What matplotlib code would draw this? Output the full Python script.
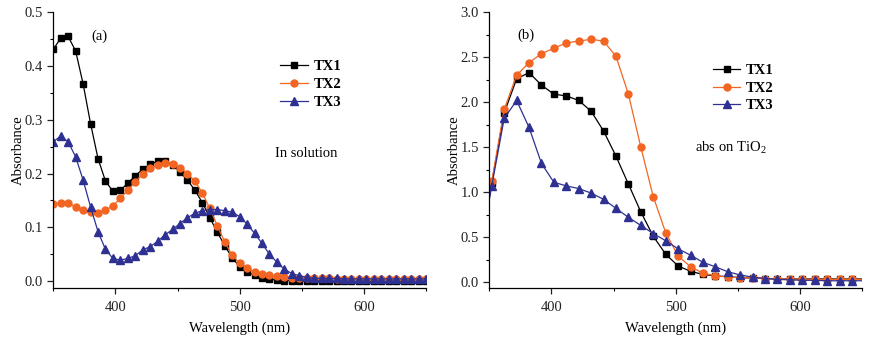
import matplotlib
matplotlib.use("Agg")
import matplotlib.pyplot as plt
from matplotlib.ticker import MultipleLocator

plt.rcParams['font.family'] = ['Liberation Serif', 'DejaVu Serif']
plt.rcParams['mathtext.fontset'] = 'custom'
plt.rcParams['mathtext.rm'] = 'Liberation Serif'

# ---- panel (a): in solution ----
wl_a = list(range(350, 651, 6))
tx1_a = [0.431, 0.452, 0.455, 0.428, 0.367, 0.293, 0.228, 0.186, 0.167, 0.169,
         0.182, 0.196, 0.208, 0.217, 0.223, 0.223, 0.216, 0.203, 0.188, 0.169,
         0.146, 0.118, 0.091, 0.066, 0.043, 0.027, 0.017, 0.011, 0.006, 0.003,
         0.002, 0.001, 0.001, 0.000, 0.000, 0.000, 0.000, 0.000, 0.000, 0.000,
         0.000, 0.000, 0.000, 0.000, 0.000, 0.000, 0.000, 0.000, 0.000, 0.000, 0.000]
tx2_a = [0.143, 0.146, 0.145, 0.138, 0.132, 0.128, 0.127, 0.132, 0.140, 0.154,
         0.169, 0.185, 0.199, 0.210, 0.216, 0.219, 0.217, 0.211, 0.200, 0.186,
         0.164, 0.135, 0.103, 0.073, 0.048, 0.033, 0.024, 0.017, 0.013, 0.011,
         0.009, 0.007, 0.006, 0.005, 0.005, 0.005, 0.005, 0.005, 0.004, 0.004,
         0.004, 0.004, 0.004, 0.004, 0.004, 0.004, 0.004, 0.004, 0.004, 0.004, 0.004]
tx3_a = [0.259, 0.270, 0.259, 0.231, 0.188, 0.138, 0.092, 0.059, 0.042, 0.039,
         0.042, 0.047, 0.058, 0.064, 0.074, 0.086, 0.096, 0.107, 0.118, 0.126,
         0.131, 0.133, 0.133, 0.131, 0.128, 0.120, 0.106, 0.089, 0.070, 0.050,
         0.035, 0.022, 0.014, 0.010, 0.007, 0.005, 0.005, 0.005, 0.005, 0.004,
         0.004, 0.004, 0.004, 0.004, 0.004, 0.004, 0.004, 0.004, 0.004, 0.004, 0.004]

# ---- panel (b): adsorbed on TiO2 (first and last points lie outside the view) ----
wl_b = [342] + list(range(352, 653, 10))
tx1_b = [0.30, 1.10, 1.88, 2.26, 2.33, 2.19, 2.09, 2.07, 2.02, 1.90, 1.68, 1.40,
         1.09, 0.78, 0.51, 0.31, 0.18, 0.12, 0.085, 0.07, 0.06, 0.05, 0.045,
         0.04, 0.035, 0.035, 0.035, 0.035, 0.035, 0.035, 0.035, 0.035]
tx2_b = [0.35, 1.12, 1.92, 2.30, 2.44, 2.54, 2.60, 2.66, 2.68, 2.70, 2.68, 2.51,
         2.09, 1.50, 0.95, 0.55, 0.29, 0.17, 0.10, 0.07, 0.055, 0.05, 0.045,
         0.04, 0.035, 0.035, 0.03, 0.03, 0.03, 0.03, 0.03, 0.03]
tx3_b = [0.30, 1.07, 1.82, 2.02, 1.72, 1.32, 1.11, 1.07, 1.04, 0.99, 0.92, 0.82,
         0.72, 0.63, 0.54, 0.46, 0.37, 0.30, 0.22, 0.17, 0.115, 0.08, 0.055,
         0.04, 0.03, 0.025, 0.02, 0.02, 0.015, 0.015, 0.015, 0.015]

labels = ['TX1', 'TX2', 'TX3']
colors = ['#000000', '#F26522', '#2E3192']
markers = ['s', 'o', '^']
msizes = [4.6, 5.0, 5.6]

fig = plt.figure(figsize=(8.72, 3.38), dpi=100)
axA = fig.add_axes([0.0611, 0.1494, 0.4274, 0.8142])
axB = fig.add_axes([0.5611, 0.1494, 0.4274, 0.8142])


def style(ax, ylim, ymaj, ymin, fmt):
    ax.set_xlim(350, 650)
    ax.set_ylim(*ylim)
    for s in ['top', 'right']:
        ax.spines[s].set_visible(False)
    for s in ['left', 'bottom']:
        ax.spines[s].set_linewidth(0.9)
    ax.xaxis.set_major_locator(MultipleLocator(100))
    ax.xaxis.set_minor_locator(MultipleLocator(50))
    ax.yaxis.set_major_locator(MultipleLocator(ymaj))
    ax.yaxis.set_minor_locator(MultipleLocator(ymin))
    ax.yaxis.set_major_formatter(plt.FormatStrFormatter(fmt))
    ax.tick_params(which='major', direction='out', length=4, width=0.9,
                   labelsize=10.5, colors='#222222')
    ax.tick_params(axis='x', which='major', pad=6)
    ax.tick_params(which='minor', direction='out', length=2.5, width=0.8)
    ax.set_xlabel('Wavelength (nm)', fontsize=10.5, labelpad=5)
    ax.set_ylabel('Absorbance', fontsize=10.5, labelpad=0)


series_a = [tx1_a, tx2_a, tx3_a]
for ys, lab, c, m, ms in zip(series_a, labels, colors, markers, msizes):
    axA.plot(wl_a, ys, color=c, marker=m, markersize=ms, lw=0.9, label=lab)
style(axA, (-0.012, 0.5), 0.1, 0.05, '%.1f')

series_b = [tx1_b, tx2_b, tx3_b]
for ys, lab, c, m, ms in zip(series_b, labels, colors, markers, msizes):
    axB.plot(wl_b, ys, color=c, marker=m, markersize=ms, lw=0.9, label=lab,
             markevery=slice(1, 31))
style(axB, (-0.06, 3.0), 0.5, 0.25, '%.1f')

legA = axA.legend(loc='upper left', bbox_to_anchor=(0.594, 0.847), frameon=False,
                  handlelength=1.9, handletextpad=0.35, labelspacing=0.3,
                  borderaxespad=0, prop={'weight': 'bold', 'size': 10.5})
legB = axB.legend(loc='upper left', bbox_to_anchor=(0.584, 0.833), frameon=False,
                  handlelength=1.9, handletextpad=0.35, labelspacing=0.3,
                  borderaxespad=0, prop={'weight': 'bold', 'size': 10.5})

axA.text(381, 0.456, '(a)', fontsize=10.5, va='center', ha='left')
axA.text(528.5, 0.238, 'In solution', fontsize=10.5, va='center', ha='left')
axB.text(372.3, 2.75, '(b)', fontsize=10.5, va='center', ha='left')
axB.text(515.8, 1.49, r'abs on TiO$_2$', fontsize=10.5, va='center', ha='left')

fig.savefig('out.png', dpi=100)
